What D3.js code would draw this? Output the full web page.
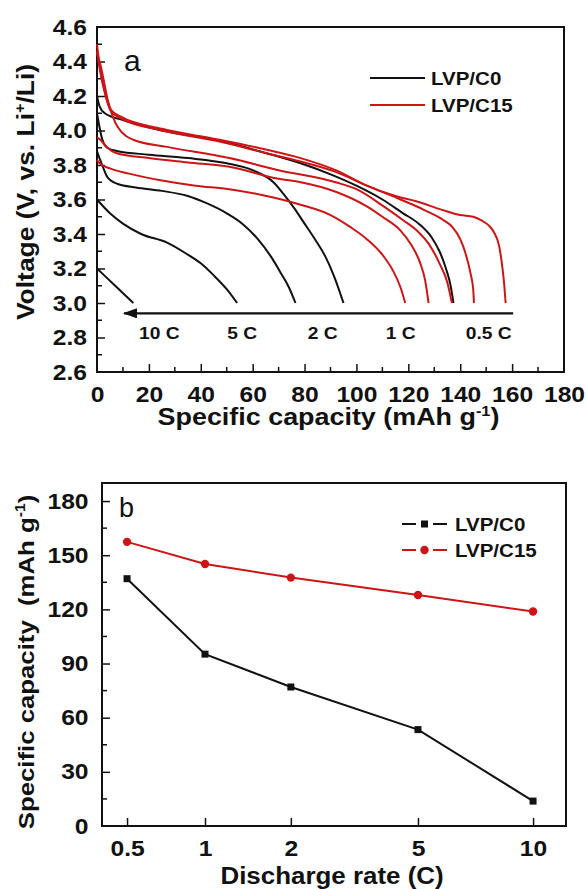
<!DOCTYPE html>
<html>
<head>
<meta charset="utf-8">
<script src="https://cdn.jsdelivr.net/npm/d3@7"></script>
<style>
  body { margin: 0; background: #fff; }
  svg { display: block; }
  text { font-family: "Liberation Sans", Arial, sans-serif; fill: #111; }
</style>
</head>
<body>
<svg id="chart" width="587" height="889"></svg>
<script>
// ---- panel a: discharge curves [capacity mAh/g, voltage V] ----
var c0_05C = [[0,4.2],[1,4.14],[3,4.1],[10,4.06],[25,4.0],[46,3.945],[65,3.87],[78.5,3.81],[91,3.74],[100,3.68],[110,3.6],[118,3.52],[124,3.46],[129,3.38],[132,3.3],[134.5,3.2],[136.3,3.1],[137.4,3.0]];
var c0_1C = [[0,4.1],[2,3.95],[4,3.9],[8,3.88],[20,3.86],[35,3.84],[50,3.81],[60,3.77],[68,3.7],[72,3.63],[76,3.55],[80,3.46],[84,3.37],[88,3.27],[91.5,3.15],[95,3.0]];
var c0_2C = [[0,3.88],[2,3.8],[4,3.73],[8,3.69],[15,3.67],[25,3.65],[35,3.62],[42,3.58],[50,3.52],[56,3.46],[62,3.37],[67,3.27],[71,3.17],[74,3.09],[76.5,3.0]];
var c0_5C = [[0,3.6],[5,3.52],[10,3.46],[17,3.4],[27,3.35],[34,3.29],[40,3.23],[45,3.16],[50,3.08],[54,3.0]];
var c0_10C = [[0,3.2],[7,3.1],[14,3.0]];

var c15_05C = [[0,4.5],[1,4.38],[2.8,4.24],[5.4,4.12],[9.2,4.08],[25,4.01],[46,3.95],[65,3.89],[78.5,3.84],[92,3.77],[104,3.68],[115,3.62],[123,3.59],[133,3.54],[140,3.51],[145,3.5],[148,3.48],[151,3.45],[153,3.41],[155,3.33],[156.3,3.2],[157,3.1],[157.5,3.0]];
var c15_1C = [[0,4.46],[1,4.36],[2.8,4.23],[5.4,4.11],[9.2,4.07],[25,4.0],[46,3.94],[65,3.87],[78.5,3.82],[92,3.76],[104,3.68],[117,3.6],[126,3.54],[133.6,3.48],[137,3.44],[140,3.37],[142,3.29],[144,3.17],[145,3.08],[145.3,3.0]];
var c15_2C = [[0,4.45],[1.5,4.37],[4.1,4.18],[8,4.02],[14.2,3.945],[27,3.905],[51,3.84],[70,3.77],[92,3.7],[100,3.66],[110.5,3.56],[118,3.48],[123.3,3.42],[128,3.34],[132,3.23],[135,3.12],[136.8,3.0]];
var c15_5C = [[0,3.96],[1,3.95],[4,3.9],[7.3,3.87],[20,3.84],[35,3.815],[51,3.79],[70,3.72],[78.5,3.7],[92,3.645],[104,3.56],[110,3.5],[117,3.42],[121,3.34],[124.6,3.23],[126.5,3.13],[127.8,3.0]];
var c15_10C = [[0,3.83],[1,3.81],[5,3.78],[12.4,3.75],[25,3.71],[38,3.68],[51,3.66],[64,3.625],[78.5,3.57],[90,3.51],[97.7,3.44],[104,3.37],[110.5,3.27],[114,3.19],[117,3.09],[118.8,3.0]];

var rateLabels = ["10 C", "5 C", "2 C", "1 C", "0.5 C"];
var rateLabelX = [24, 56, 87, 117, 151];
var capTicks = [0, 20, 40, 60, 80, 100, 120, 140, 160, 180];
var voltTicks = [2.6, 2.8, 3.0, 3.2, 3.4, 3.6, 3.8, 4.0, 4.2, 4.4, 4.6];

// ---- panel b: rate capability ----
var rates = [0.5, 1, 2, 5, 10];
var rateNames = ["0.5", "1", "2", "5", "10"];
var capC0 = [137, 95.2, 77, 53.4, 13.8];
var capC15 = [157.4, 145.1, 137.6, 128, 118.8];
var capTicksB = [0, 30, 60, 90, 120, 150, 180];

var BLACK = "#111111";
var RED = "#cc1517";
var SX = 1.12; // the figure's lettering is a little wider than Arial

var svg = d3.select("#chart");

svg.append("defs").append("marker")
  .attr("id", "arrow")
  .attr("markerUnits", "userSpaceOnUse")
  .attr("markerWidth", 14).attr("markerHeight", 10)
  .attr("refX", 13).attr("refY", 5)
  .attr("orient", "auto")
  .append("path")
  .attr("d", "M0,0 L14,5 L0,10 Z")
  .attr("fill", BLACK);

// text placed at (x, y), optionally rotated, stretched horizontally by sx
function label(parent, x, y, size, sx, anchor, rot) {
  var g = parent.append("g")
    .attr("transform", "translate(" + x + "," + y + ")" + (rot ? " rotate(" + rot + ")" : ""));
  return g.append("text").attr("transform", "scale(" + sx + ",1)")
    .attr("font-size", size).attr("font-weight", "bold").attr("text-anchor", anchor || "start");
}

function styleAxis(a) {
  a.select(".domain").remove();
  a.selectAll(".tick line").attr("stroke", BLACK).attr("stroke-width", 1.5);
  a.selectAll(".tick text").attr("font-size", 22).attr("font-weight", "bold")
    .attr("font-family", "Liberation Sans, Arial, sans-serif").attr("fill", BLACK)
    .attr("transform", "scale(" + SX + ",1)");
}

// ===================== panel a =====================
var ax = { left: 97, top: 27, w: 467, h: 345 };
var gA = svg.append("g").attr("transform", "translate(" + ax.left + "," + ax.top + ")");
var x = d3.scaleLinear().domain([0, 180]).range([0, ax.w]);
var y = d3.scaleLinear().domain([2.6, 4.6]).range([ax.h, 0]);

// minor ticks
gA.append("g").selectAll("line").data(d3.range(10, 180, 20)).join("line")
  .attr("x1", x).attr("x2", x).attr("y1", ax.h).attr("y2", ax.h - 5)
  .attr("stroke", BLACK).attr("stroke-width", 1.5);
gA.append("g").selectAll("line").data(d3.range(2.7, 4.6, 0.2)).join("line")
  .attr("y1", y).attr("y2", y).attr("x1", 0).attr("x2", 5)
  .attr("stroke", BLACK).attr("stroke-width", 1.5);

var xAxisA = gA.append("g").attr("transform", "translate(0," + ax.h + ")")
  .call(d3.axisBottom(x).tickValues(capTicks).tickSize(-8).tickPadding(14).tickFormat(d3.format("d")));
var yAxisA = gA.append("g")
  .call(d3.axisLeft(y).tickValues(voltTicks).tickSize(-8).tickPadding(9).tickFormat(d3.format(".1f")));
styleAxis(xAxisA);
styleAxis(yAxisA);
xAxisA.selectAll(".tick").filter(function(d) { return d === 0 || d === 180; }).select("line").remove();
yAxisA.selectAll(".tick").filter(function(d) { return d === 2.6 || d === 4.6; }).select("line").remove();

gA.append("rect").attr("width", ax.w).attr("height", ax.h)
  .attr("fill", "none").attr("stroke", BLACK).attr("stroke-width", 2);

var line = d3.line().x(function(d) { return x(d[0]); }).y(function(d) { return y(d[1]); })
  .curve(d3.curveMonotoneX);

var blackCurves = [c0_05C, c0_1C, c0_2C, c0_5C, c0_10C];
var redCurves = [c15_05C, c15_1C, c15_2C, c15_5C, c15_10C];
gA.append("g").selectAll("path").data(blackCurves).join("path")
  .attr("d", line).attr("fill", "none").attr("stroke", BLACK).attr("stroke-width", 2);
gA.append("g").selectAll("path").data(redCurves).join("path")
  .attr("d", line).attr("fill", "none").attr("stroke", RED).attr("stroke-width", 2);

// rate arrow
gA.append("line")
  .attr("x1", x(160.4)).attr("x2", x(10.4)).attr("y1", y(2.94)).attr("y2", y(2.94))
  .attr("stroke", BLACK).attr("stroke-width", 2.2).attr("marker-end", "url(#arrow)");
rateLabels.forEach(function(d, i) {
  label(gA, x(rateLabelX[i]), y(2.826), 16, 1.2, "middle").attr("dy", "0.35em").text(d);
});

gA.append("text").attr("x", 27).attr("y", 44).attr("font-size", 30).text("a");

// legend a
var legA = gA.append("g").attr("transform", "translate(273,51)");
[["LVP/C0", BLACK], ["LVP/C15", RED]].forEach(function(d, i) {
  legA.append("line").attr("x1", 0).attr("x2", 55).attr("y1", i * 27).attr("y2", i * 27)
    .attr("stroke", d[1]).attr("stroke-width", 2);
  label(legA, 61, i * 27, 19, 1.08).attr("dy", "0.35em").text(d[0]);
});

// axis titles a
var tA = label(svg, ax.left + ax.w / 2 - 2, 425, 23, 1.17, "middle");
tA.append("tspan").text("Specific capacity (mAh g");
tA.append("tspan").attr("dy", -9).attr("font-size", 14).text("-1");
tA.append("tspan").attr("dy", 9).text(")");

var tAy = label(svg, 34, 192, 23, 1.15, "middle", -90);
tAy.append("tspan").text("Voltage (V, vs. Li");
tAy.append("tspan").attr("dy", -9).attr("font-size", 14).text("+");
tAy.append("tspan").attr("dy", 9).text("/Li)");

// ===================== panel b =====================
var bx = { left: 102, top: 483, w: 464, h: 343 };
var gB = svg.append("g").attr("transform", "translate(" + bx.left + "," + bx.top + ")");
// category axis: the rate positions are spaced unevenly along the axis
var rateTickFrac = [0.054, 0.222, 0.407, 0.681, 0.929];
var xb = d3.scaleLinear().domain(rates).range(rateTickFrac.map(function(f) { return f * bx.w; }));
var yb = d3.scaleLinear().domain([0, 190]).range([bx.h, 0]);

gB.append("g").selectAll("line").data(d3.range(15, 190, 30)).join("line")
  .attr("y1", yb).attr("y2", yb).attr("x1", 0).attr("x2", 5)
  .attr("stroke", BLACK).attr("stroke-width", 1.5);

var xAxisB = gB.append("g").attr("transform", "translate(0," + bx.h + ")")
  .call(d3.axisBottom(xb).tickValues(rates).tickSize(-8).tickPadding(14)
    .tickFormat(function(d, i) { return rateNames[i]; }));
var yAxisB = gB.append("g")
  .call(d3.axisLeft(yb).tickValues(capTicksB).tickSize(-8).tickPadding(12));
styleAxis(xAxisB);
styleAxis(yAxisB);
yAxisB.selectAll(".tick").filter(function(d) { return d === 0; }).select("line").remove();

gB.append("rect").attr("width", bx.w).attr("height", bx.h)
  .attr("fill", "none").attr("stroke", BLACK).attr("stroke-width", 2);

var lineB = d3.line().x(function(d) { return xb(d[0]); }).y(function(d) { return yb(d[1]); });
var ptsC0 = rates.map(function(r, i) { return [r, capC0[i]]; });
var ptsC15 = rates.map(function(r, i) { return [r, capC15[i]]; });

gB.append("path").attr("d", lineB(ptsC0)).attr("fill", "none").attr("stroke", BLACK).attr("stroke-width", 2);
gB.append("g").selectAll("rect").data(ptsC0).join("rect")
  .attr("x", function(d) { return xb(d[0]) - 3.5; }).attr("y", function(d) { return yb(d[1]) - 3.5; })
  .attr("width", 7).attr("height", 7).attr("fill", BLACK);
gB.append("path").attr("d", lineB(ptsC15)).attr("fill", "none").attr("stroke", RED).attr("stroke-width", 2);
gB.append("g").selectAll("circle").data(ptsC15).join("circle")
  .attr("cx", function(d) { return xb(d[0]); }).attr("cy", function(d) { return yb(d[1]); })
  .attr("r", 4.2).attr("fill", RED);

gB.append("text").attr("x", 17).attr("y", 34).attr("font-size", 27).text("b");

// legend b
var legB = gB.append("g").attr("transform", "translate(300,41)");
[["LVP/C0", BLACK, "square"], ["LVP/C15", RED, "circle"]].forEach(function(d, i) {
  legB.append("line").attr("x1", 0).attr("x2", 14).attr("y1", i * 26).attr("y2", i * 26)
    .attr("stroke", d[1]).attr("stroke-width", 2);
  legB.append("line").attr("x1", 31).attr("x2", 45).attr("y1", i * 26).attr("y2", i * 26)
    .attr("stroke", d[1]).attr("stroke-width", 2);
  if (d[2] === "square") {
    legB.append("rect").attr("x", 19).attr("y", i * 26 - 3.5).attr("width", 7).attr("height", 7).attr("fill", d[1]);
  } else {
    legB.append("circle").attr("cx", 22.5).attr("cy", i * 26).attr("r", 4.2).attr("fill", d[1]);
  }
  label(legB, 53, i * 26, 19, 1.08).attr("dy", "0.35em").text(d[0]);
});

label(svg, bx.left + bx.w / 2 - 2, 884, 24, 1.08, "middle").text("Discharge rate (C)");

var tBy = label(svg, 34, 662, 23, 1.12, "middle", -90);
tBy.append("tspan").text("Specific capacity\u00a0\u00a0(mAh g");
tBy.append("tspan").attr("dy", -9).attr("font-size", 14).text("-1");
tBy.append("tspan").attr("dy", 9).text(")");
</script>
</body>
</html>
